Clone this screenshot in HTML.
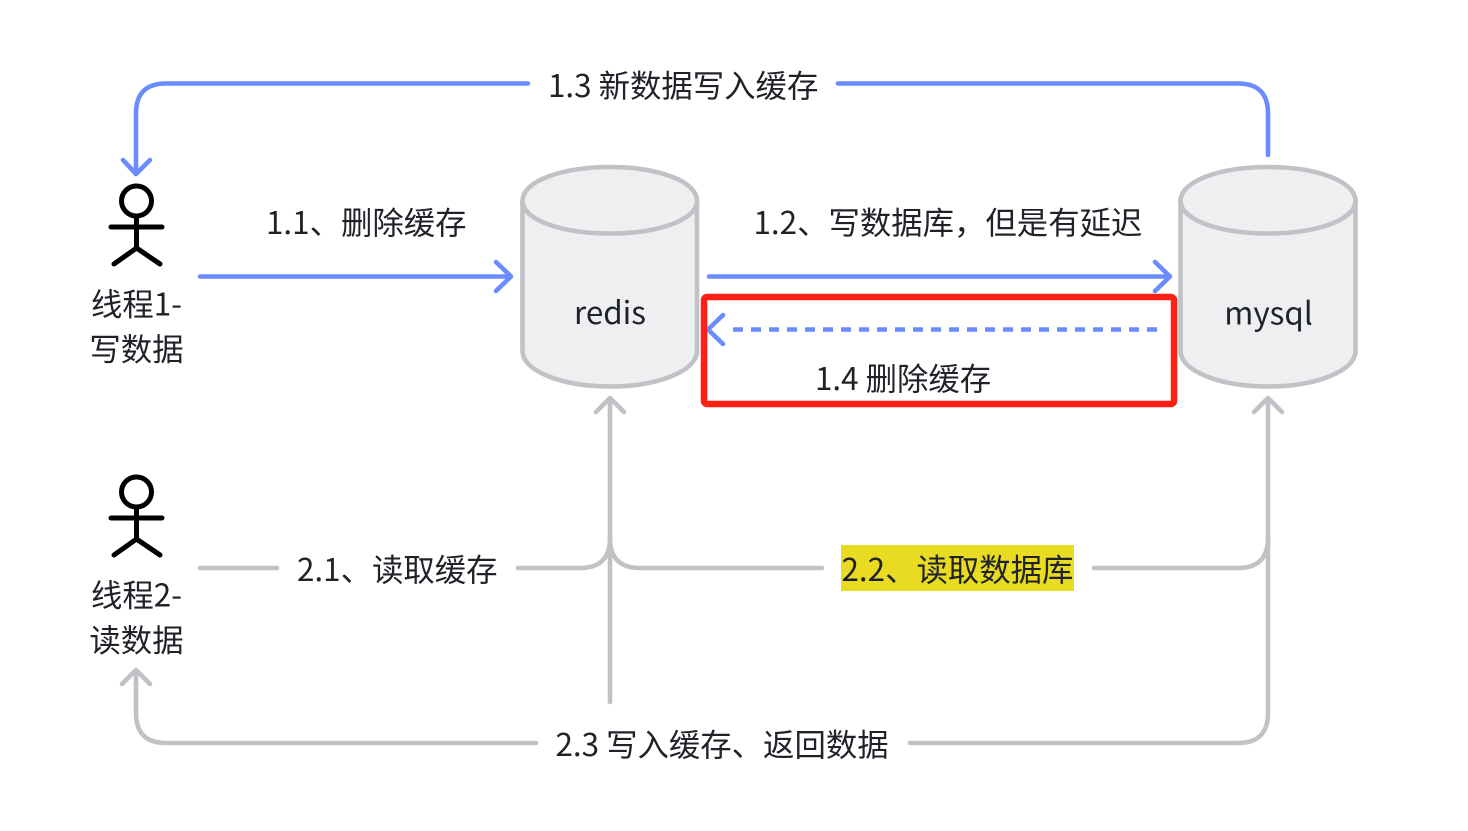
<!DOCTYPE html>
<html><head><meta charset="utf-8">
<style>
html,body{margin:0;padding:0;background:#fff;width:1468px;height:831px;overflow:hidden}
svg{display:block}
text{font-family:"Noto Sans CJK SC","Liberation Sans",sans-serif;font-size:31.4px;fill:#1f2329}
.b{fill:none;stroke:#6b8cff;stroke-width:4.6;stroke-linecap:round;stroke-linejoin:round}
.g{fill:none;stroke:#c0c2c6;stroke-width:4.6;stroke-linecap:round;stroke-linejoin:round}
.a{fill:none;stroke:#000;stroke-width:5;stroke-linecap:round;stroke-linejoin:round}
.c{fill:#eeeff1;stroke:#c0c2c6;stroke-width:4.6}
</style></head><body>
<svg width="1468" height="831" viewBox="0 0 1468 831" xmlns="http://www.w3.org/2000/svg">
<path class="c" d="M522.500 201V351C522.500 371 562 386.500 610 386.500S697 371 697 351V201C697 181 658 167 610 167S522.500 181 522.500 201Z"/>
<path class="c" d="M522.500 201C522.500 220 562 233.500 610 233.500S697 220 697 201"/>
<path class="c" d="M1180.500 201V351C1180.500 371 1220 386.500 1268 386.500S1355.500 371 1355.500 351V201C1355.500 181 1316 167 1268 167S1180.500 181 1180.500 201Z"/>
<path class="c" d="M1180.500 201C1180.500 220 1220 233.500 1268 233.500S1355.500 220 1355.500 201"/>
<path class="b" d="M528 83.500H166Q136 83.500 136 113.500V173M123 160L136 174L150 160"/>
<path class="b" d="M838 83.500H1238Q1268 83.500 1268 113.500V155"/>
<path class="b" d="M200 276.500H510M496 262L511 276.500L496 291"/>
<path class="b" d="M709 276.500H1168M1155 262L1170 276.500L1155 291"/>
<path class="b" d="M1157 329.500H725" stroke-dasharray="10 8" style="stroke-linecap:butt"/>
<path class="b" d="M723 315L708 329.500L723 344"/>
<rect x="704" y="297" width="470" height="107" rx="3" fill="none" stroke="#ff2015" stroke-width="6.5"/>
<path class="g" d="M610 702V400M596 412L610 398L624 412"/>
<path class="g" d="M200 568H277M518 568H580Q610 568 610 538"/>
<path class="g" d="M822 568H640Q610 568 610 538"/>
<path class="g" d="M1094 568H1238Q1268 568 1268 538V400M1254 412L1268 398L1282 412"/>
<path class="g" d="M1268 538V713Q1268 743 1238 743H910"/>
<path class="g" d="M536 743H166Q136 743 136 713V671M122 684L136 670L150 684"/>
<g class="a">
<circle cx="136.500" cy="201" r="15"/><path d="M136.500 216V248M111 227H162M114 264L136.500 248L160 264"/>
<circle cx="136.500" cy="492" r="15"/><path d="M136.500 507V539M111 518H162M114 555L136.500 539L160 555"/>
</g>
<rect x="841" y="545" width="233" height="46" fill="#e8db22"/>
<text x="548" y="97">1.3 新数据写入缓存</text>
<text x="266" y="234">1.1、删除缓存</text>
<text x="753.500" y="234">1.2、写数据库，但是有延迟</text>
<text x="610" y="324" text-anchor="middle">redis</text>
<text x="1268.500" y="324.500" text-anchor="middle">mysql</text>
<text x="815" y="390">1.4 删除缓存</text>
<text x="136.500" y="315.500" text-anchor="middle">线程1-</text>
<text x="136.500" y="360.500" text-anchor="middle">写数据</text>
<text x="136.500" y="606.500" text-anchor="middle">线程2-</text>
<text x="136.500" y="651.500" text-anchor="middle">读数据</text>
<text x="297" y="581">2.1、读取缓存</text>
<text x="841.500" y="581">2.2、读取数据库</text>
<text x="555.500" y="756">2.3 写入缓存、返回数据</text>
</svg>
</body></html>
